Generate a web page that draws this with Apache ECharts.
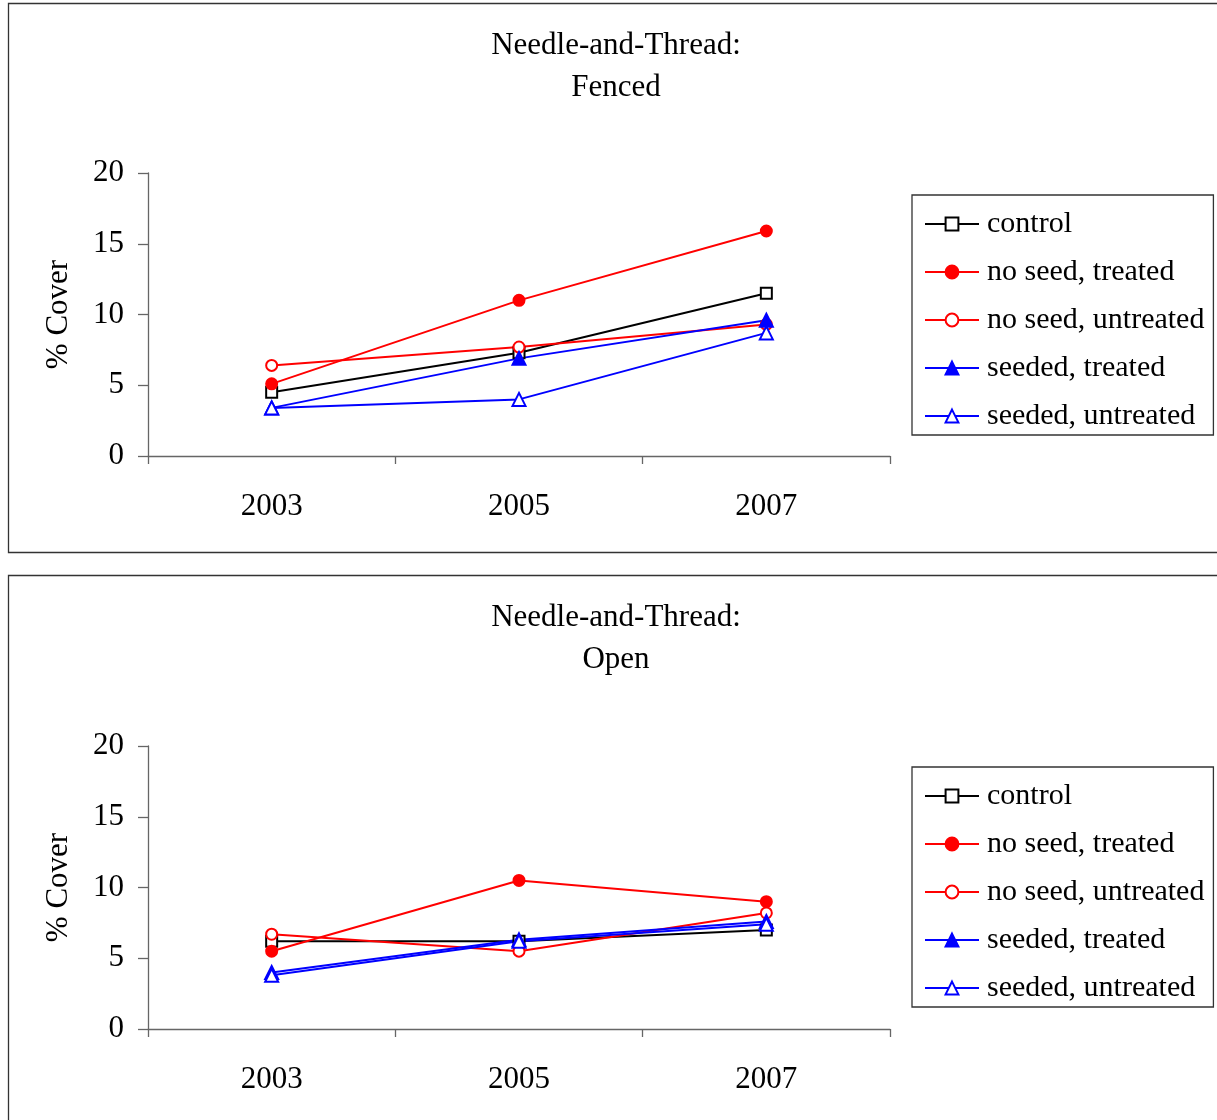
<!DOCTYPE html>
<html>
<head>
<meta charset="utf-8">
<script src="https://cdn.jsdelivr.net/npm/echarts@6/dist/echarts.min.js"></script>
<style>html,body{margin:0;padding:0;background:#fff;}#c{width:1217px;height:1120px;}</style>
</head>
<body>
<div id="c"></div>
<script>
const years = ['2003', '2005', '2007'];
const seriesNames = ['control', 'no seed, treated', 'no seed, untreated', 'seeded, treated', 'seeded, untreated'];
const yTicks = [0, 5, 10, 15, 20];

// Fenced panel
const fencedControl = [4.5, 7.3, 11.5];
const fencedNoSeedTreated = [5.1, 11.0, 15.9];
const fencedNoSeedUntreated = [6.4, 7.7, 9.3];
const fencedSeededTreated = [3.4, 6.9, 9.6];
const fencedSeededUntreated = [3.4, 4.0, 8.7];

// Open panel
const openControl = [6.2, 6.2, 7.0];
const openNoSeedTreated = [5.5, 10.5, 9.0];
const openNoSeedUntreated = [6.7, 5.5, 8.2];
const openSeededTreated = [4.0, 6.3, 7.6];
const openSeededUntreated = [3.8, 6.2, 7.4];

const FONT = '"Liberation Serif", "Times New Roman", serif';
const FS = 31;
const styles = [
  { color: '#000000', symbol: 'emptyRect' },
  { color: '#ff0000', symbol: 'circle' },
  { color: '#ff0000', symbol: 'emptyCircle' },
  { color: '#0000ff', symbol: 'triangle' },
  { color: '#0000ff', symbol: 'emptyTriangle' }
];
const fenced = [fencedControl, fencedNoSeedTreated, fencedNoSeedUntreated, fencedSeededTreated, fencedSeededUntreated];
const open = [openControl, openNoSeedTreated, openNoSeedUntreated, openSeededTreated, openSeededUntreated];

const chart = echarts.init(document.getElementById('c'), null, { renderer: 'canvas' });

const axisGray = '#666666';
function xAxis(gi) {
  return {
    type: 'category', gridIndex: gi, data: years, boundaryGap: true,
    axisLine: { lineStyle: { color: axisGray, width: 1.3 } },
    axisTick: { show: true, interval: 0, length: 8, lineStyle: { color: axisGray, width: 1.3 } },
    axisLabel: { fontFamily: FONT, fontSize: FS, color: '#000', margin: 35, interval: 0 },
    splitLine: { show: false }
  };
}
function yAxis(gi) {
  return {
    type: 'value', gridIndex: gi, min: 0, max: 20, interval: 5,
    name: '% Cover', nameLocation: 'middle', nameGap: 74, nameRotate: 90,
    nameTextStyle: { fontFamily: FONT, fontSize: FS, color: '#000' },
    axisLine: { show: true, lineStyle: { color: axisGray, width: 1.3 } },
    axisTick: { show: true, length: 10, lineStyle: { color: axisGray, width: 1.3 } },
    axisLabel: { fontFamily: FONT, fontSize: FS, color: '#000', margin: 24, padding: [6, 0, 0, 0],
      formatter: v => (yTicks.indexOf(v) >= 0 ? String(v) : '') },
    splitLine: { show: false }
  };
}
function legend(top) {
  return {
    data: seriesNames, orient: 'vertical', left: 912, top: top,
    padding: [14, 9, 4, 12], itemGap: 18, itemWidth: 54, itemHeight: 16,
    borderColor: '#333', borderWidth: 1.3,
    textStyle: { fontFamily: FONT, fontSize: 30, color: '#000', padding: [0, 0, 0, 3] },
    selectedMode: false
  };
}
const series = [];
[fenced, open].forEach((set, gi) => {
  set.forEach((vals, i) => {
    series.push({
      name: seriesNames[i], type: 'line', xAxisIndex: gi, yAxisIndex: gi, data: vals,
      symbol: styles[i].symbol, symbolSize: styles[i].symbol.toLowerCase().indexOf('triangle') >= 0 ? 13 : 11,
      showAllSymbol: true,
      lineStyle: { color: styles[i].color, width: 2 },
      itemStyle: { color: styles[i].color, borderColor: styles[i].color, borderWidth: 2 },
      emphasis: { disabled: true }, animation: false
    });
  });
});

chart.setOption({
  animation: false,
  title: [
    { text: 'Needle-and-Thread:\nFenced', left: 616, top: 25, textAlign: 'center', padding: 0,
      textStyle: { fontFamily: FONT, fontSize: FS, lineHeight: 42, fontWeight: 'normal', color: '#000' } },
    { text: 'Needle-and-Thread:\nOpen', left: 616, top: 597, textAlign: 'center', padding: 0,
      textStyle: { fontFamily: FONT, fontSize: FS, lineHeight: 42, fontWeight: 'normal', color: '#000' } }
  ],
  grid: [
    { left: 148, top: 173, width: 742, height: 283 },
    { left: 148, top: 746, width: 742, height: 283 }
  ],
  xAxis: [xAxis(0), xAxis(1)],
  yAxis: [yAxis(0), yAxis(1)],
  legend: [legend(195), legend(767)],
  graphic: [
    { type: 'rect', shape: { x: 8.5, y: 3.5, width: 1230, height: 549 }, style: { fill: 'none', stroke: '#333', lineWidth: 1.3 }, z: -1 },
    { type: 'rect', shape: { x: 8.5, y: 575.5, width: 1230, height: 600 }, style: { fill: 'none', stroke: '#333', lineWidth: 1.3 }, z: -1 }
  ],
  series: series
});
</script>
</body>
</html>
